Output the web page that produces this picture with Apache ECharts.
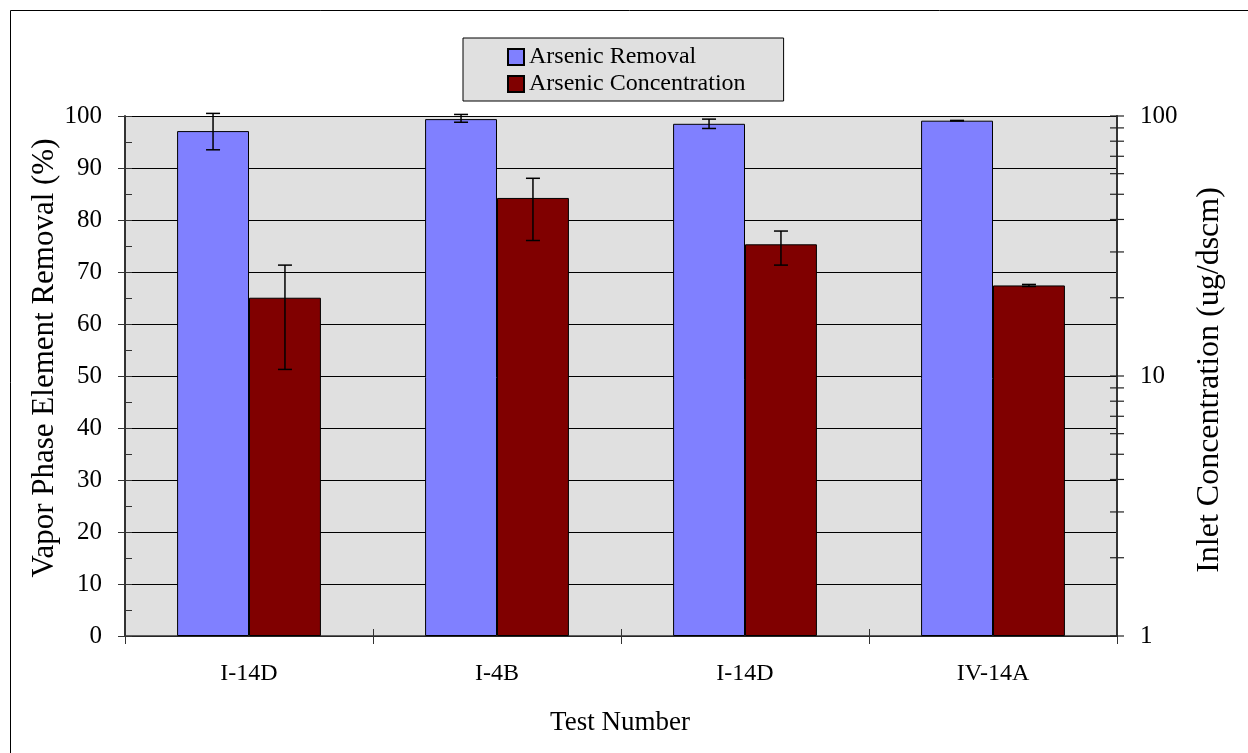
<!DOCTYPE html>
<html>
<head>
<meta charset="utf-8">
<script src="https://cdn.jsdelivr.net/npm/echarts@6/dist/echarts.min.js"></script>
<style>
  html, body { margin: 0; padding: 0; background: #fff; }
  #chart { width: 1248px; height: 753px; }
</style>
</head>
<body>
<div id="chart"></div>
<script>
// Test runs and measured arsenic data
const categories = ['I-14D', 'I-4B', 'I-14D', 'IV-14A'];

// Vapor phase removal (%) with error range
const removal = [97.1, 99.4, 98.5, 99.1];
const removalLow = [93.5, 98.8, 97.6, 99.05];
const removalHigh = [100.5, 100.3, 99.4, 99.15];

// Inlet concentration (ug/dscm) with error range
const concentration = [20.0, 48.4, 32.1, 22.3];
const concentrationLow = [10.6, 33.2, 26.7, 22.1];
const concentrationHigh = [26.7, 57.6, 36.1, 22.5];

// Right (log) axis tick values
const logTicks = [1, 2, 3, 4, 5, 6, 7, 8, 9, 10, 20, 30, 40, 50, 60, 70, 80, 90, 100];

const FONT = "'Liberation Serif', 'Times New Roman', serif";
const CAT_GAP = 0.42;
const AXIS_COLOR = '#333';

const chart = echarts.init(document.getElementById('chart'));

// Error bar renderer; slot -1 = left bar of group, +1 = right bar
function errorBar(slot) {
  return function (params, api) {
    const i = api.value(0);
    const lo = api.coord([i, api.value(1)]);
    const hi = api.coord([i, api.value(2)]);
    const band = params.coordSys.width / categories.length;
    const barW = band * (1 - CAT_GAP) / 2;
    const x = lo[0] + slot * barW / 2;
    const cap = 7;
    const style = { stroke: '#000', lineWidth: 1.5 };
    return {
      type: 'group',
      children: [
        { type: 'line', shape: { x1: x, y1: lo[1], x2: x, y2: hi[1] }, style },
        { type: 'line', shape: { x1: x - cap, y1: lo[1], x2: x + cap, y2: lo[1] }, style },
        { type: 'line', shape: { x1: x - cap, y1: hi[1], x2: x + cap, y2: hi[1] }, style }
      ]
    };
  };
}

// Crossing ticks on the right log axis
function logTick(params, api) {
  const y = api.coord([0, api.value(1)])[1];
  const x = params.coordSys.x + params.coordSys.width;
  return {
    type: 'line',
    shape: { x1: x - 7, y1: y, x2: x + 7, y2: y },
    style: { stroke: '#222', lineWidth: 1.2 }
  };
}

const option = {
  animation: false,
  backgroundColor: '#fff',
  textStyle: { fontFamily: FONT, color: '#000' },
  grid: {
    left: 125, right: 131, top: 116, bottom: 117,
    show: true, backgroundColor: '#e0e0e0', borderWidth: 0,
    containLabel: false, outerBoundsMode: 'none'
  },
  legend: {
    data: ['Arsenic Removal', 'Arsenic Concentration'],
    orient: 'vertical',
    left: 463, top: 38,
    padding: [7, 38, 5, 44],
    itemGap: 3,
    itemWidth: 16, itemHeight: 16,
    icon: 'rect',
    backgroundColor: '#e0e0e0',
    borderColor: '#000', borderWidth: 1, borderRadius: 0,
    textStyle: { fontFamily: FONT, fontSize: 24, color: '#000' }
  },
  graphic: [
    {
      type: 'rect', silent: true,
      shape: { x: 10.5, y: 10.5, width: 1400, height: 900 },
      style: { fill: 'none', stroke: '#000', lineWidth: 1 }
    },
    {
      type: 'text', x: 45, y: 358, rotation: Math.PI / 2,
      style: {
        text: 'Vapor Phase Element Removal (%)', font: '31px ' + FONT, fill: '#000',
        align: 'center', verticalAlign: 'middle', textAlign: 'center', textVerticalAlign: 'middle'
      }
    },
    {
      type: 'text', x: 1210, y: 380, rotation: Math.PI / 2,
      style: {
        text: 'Inlet Concentration (ug/dscm)', font: '32px ' + FONT, fill: '#000',
        align: 'center', verticalAlign: 'middle', textAlign: 'center', textVerticalAlign: 'middle'
      }
    },
    {
      type: 'text', x: 620, y: 723,
      style: {
        text: 'Test Number', font: '27px ' + FONT, fill: '#000',
        align: 'center', verticalAlign: 'middle', textAlign: 'center', textVerticalAlign: 'middle'
      }
    }
  ],
  xAxis: [
    {
      type: 'category', data: categories, position: 'bottom',
      axisLine: { onZero: false, lineStyle: { color: AXIS_COLOR, width: 1.5 } },
      axisTick: { show: true, inside: false, length: 8, lineStyle: { color: AXIS_COLOR } },
      axisLabel: { fontFamily: FONT, fontSize: 24, color: '#000', margin: 26 },
      splitLine: { show: false }
    },
    {
      type: 'category', data: categories, position: 'bottom',
      axisLine: { show: false, onZero: false },
      axisTick: { show: true, inside: true, length: 7, lineStyle: { color: AXIS_COLOR } },
      axisLabel: { show: false },
      splitLine: { show: false }
    }
  ],
  yAxis: [
    {
      type: 'value', min: 0, max: 100, interval: 10, position: 'left',
      axisLine: { show: true, lineStyle: { color: AXIS_COLOR, width: 2 } },
      axisTick: { show: true, inside: true, length: 7, lineStyle: { color: AXIS_COLOR } },
      minorTick: { show: true, splitNumber: 2, length: 7, lineStyle: { color: AXIS_COLOR } },
      axisLabel: { fontFamily: FONT, fontSize: 25, color: '#000', margin: 23 },
      splitLine: { show: true, lineStyle: { color: '#000', width: 1 } }
    },
    {
      type: 'log', logBase: 10, min: 1, max: 100, position: 'right',
      axisLine: { show: true, lineStyle: { color: AXIS_COLOR, width: 2 } },
      axisTick: { show: false },
      axisLabel: { fontFamily: FONT, fontSize: 25, color: '#000', margin: 23 },
      splitLine: { show: false }
    },
    {
      type: 'value', min: 0, max: 100, interval: 10, position: 'left',
      axisLine: { show: false },
      axisTick: { show: true, inside: false, length: 7, lineStyle: { color: AXIS_COLOR } },
      axisLabel: { show: false },
      splitLine: { show: false }
    }
  ],
  series: [
    {
      name: 'Arsenic Removal', type: 'bar', xAxisIndex: 0, yAxisIndex: 0,
      data: removal, barGap: '0%', barCategoryGap: (CAT_GAP * 100) + '%',
      itemStyle: { color: '#8080ff', borderColor: '#000', borderWidth: 1 },
      z: 2
    },
    {
      name: 'Arsenic Concentration', type: 'bar', xAxisIndex: 0, yAxisIndex: 1,
      data: concentration, barGap: '0%', barCategoryGap: (CAT_GAP * 100) + '%',
      itemStyle: { color: '#800000', borderColor: '#000', borderWidth: 1 },
      z: 2
    },
    {
      name: 'removalError', type: 'custom', xAxisIndex: 0, yAxisIndex: 0,
      renderItem: errorBar(-1), z: 5,
      encode: { x: 0, y: [1, 2] },
      data: categories.map((c, i) => [i, removalLow[i], removalHigh[i]])
    },
    {
      name: 'concentrationError', type: 'custom', xAxisIndex: 0, yAxisIndex: 1,
      renderItem: errorBar(1), z: 5,
      encode: { x: 0, y: [1, 2] },
      data: categories.map((c, i) => [i, concentrationLow[i], concentrationHigh[i]])
    },
    {
      name: 'logTicks', type: 'custom', xAxisIndex: 0, yAxisIndex: 1,
      renderItem: logTick, z: 6, silent: true,
      encode: { x: 0, y: 1 },
      data: logTicks.map(v => [0, v])
    }
  ]
};

chart.setOption(option);
</script>
</body>
</html>
